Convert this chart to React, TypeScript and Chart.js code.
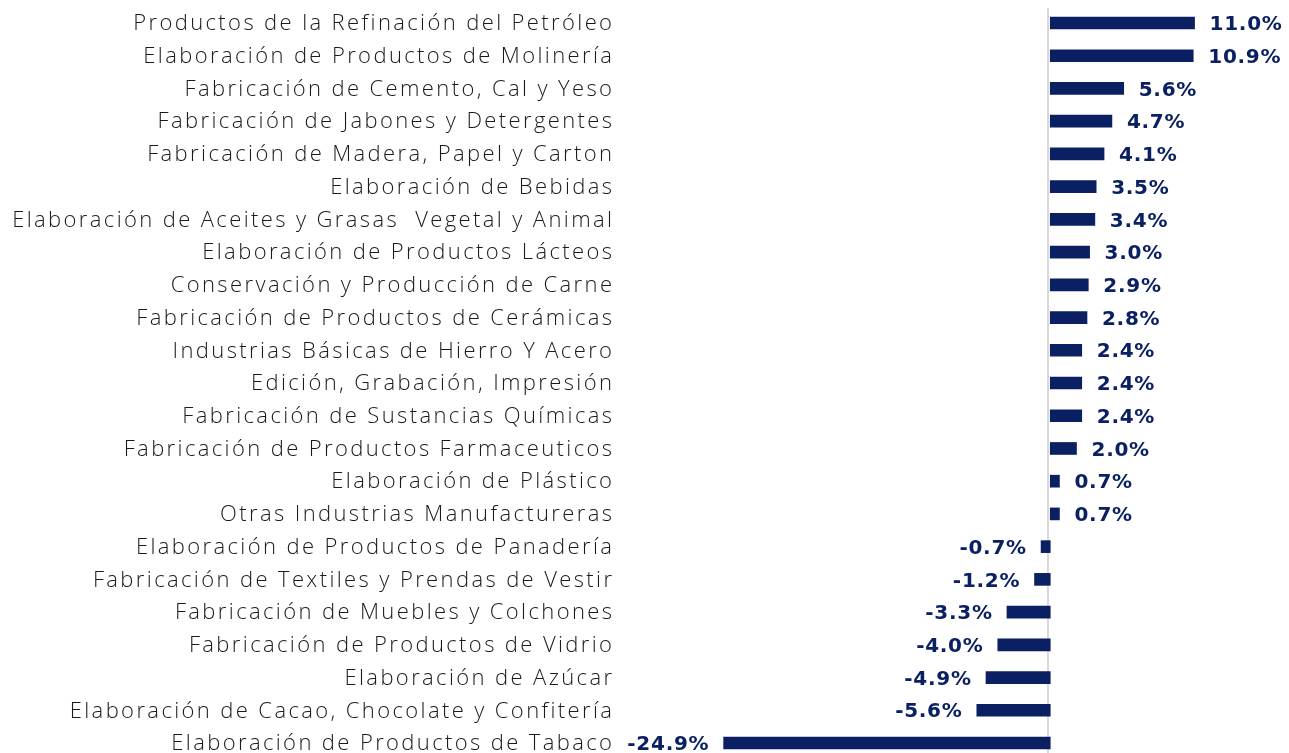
import React, { useEffect, useRef } from "react";
import { Chart, registerables } from "chart.js";

Chart.register(...registerables);

const categories: string[] = [
  "Productos de la Refinación del Petróleo",
  "Elaboración de Productos de Molinería",
  "Fabricación de Cemento, Cal y Yeso",
  "Fabricación de Jabones y Detergentes",
  "Fabricación de Madera, Papel y Carton",
  "Elaboración de Bebidas",
  "Elaboración de Aceites y Grasas  Vegetal y Animal",
  "Elaboración de Productos Lácteos",
  "Conservación y Producción de Carne",
  "Fabricación de Productos de Cerámicas",
  "Industrias Básicas de Hierro Y Acero",
  "Edición, Grabación, Impresión",
  "Fabricación de Sustancias Químicas",
  "Fabricación de Productos Farmaceuticos",
  "Elaboración de Plástico",
  "Otras Industrias Manufactureras",
  "Elaboración de Productos de Panadería",
  "Fabricación de Textiles y Prendas de Vestir",
  "Fabricación de Muebles y Colchones",
  "Fabricación de Productos de Vidrio",
  "Elaboración de Azúcar",
  "Elaboración de Cacao, Chocolate y Confitería",
  "Elaboración de Productos de Tabaco",
];

const values: number[] = [
  11.0, 10.9, 5.6, 4.7, 4.1, 3.5, 3.4, 3.0, 2.9, 2.8, 2.4, 2.4, 2.4, 2.0, 0.7,
  0.7, -0.7, -1.2, -3.3, -4.0, -4.9, -5.6, -24.9,
];

const NAVY = "#0a2062";
const CAT_FONT = "300 22px 'Open Sans'";
const VAL_FONT = "700 20px 'DejaVu Sans'";

const zeroLinePlugin = {
  id: "zeroLine",
  beforeDatasetsDraw(chart: any) {
    const x = chart.scales.x.getPixelForValue(0);
    const ctx = chart.ctx;
    ctx.save();
    ctx.strokeStyle = "#d9d9d9";
    ctx.lineWidth = 2;
    ctx.beginPath();
    ctx.moveTo(Math.round(x) - 2, 8);
    ctx.lineTo(Math.round(x) - 2, chart.height);
    ctx.stroke();
    ctx.restore();
  },
};

function spacingFor(ctx: any, font: string, text: string, target: number) {
  ctx.font = font;
  ctx.letterSpacing = "0px";
  const w = ctx.measureText(text).width;
  return Math.max(0, (target - w) / text.length);
}

const categoryLabelPlugin = {
  id: "categoryLabels",
  afterDraw(chart: any) {
    const ctx = chart.ctx;
    const y = chart.scales.y;
    ctx.save();
    const sp = spacingFor(ctx, CAT_FONT, categories[6], 602);
    ctx.font = CAT_FONT;
    ctx.letterSpacing = sp.toFixed(2) + "px";
    ctx.fillStyle = "#1a1a1a";
    ctx.textAlign = "right";
    ctx.textBaseline = "middle";
    categories.forEach((c, i) => {
      ctx.fillText(c, 612 + sp, y.getPixelForValue(i) + 1);
    });
    ctx.restore();
  },
};

const dataLabelPlugin = {
  id: "dataLabels",
  afterDatasetsDraw(chart: any) {
    const ctx = chart.ctx;
    const meta = chart.getDatasetMeta(0);
    ctx.save();
    const sp = spacingFor(ctx, VAL_FONT, "-24.9%", 82);
    ctx.font = VAL_FONT;
    ctx.letterSpacing = sp.toFixed(2) + "px";
    ctx.fillStyle = NAVY;
    ctx.textBaseline = "middle";
    meta.data.forEach((bar: any, i: number) => {
      const v = values[i];
      const txt = v.toFixed(1) + "%";
      if (v >= 0) {
        ctx.textAlign = "left";
        ctx.fillText(txt, bar.x + 15, bar.y + 2);
      } else {
        ctx.textAlign = "right";
        ctx.fillText(txt, bar.x - 15 + sp, bar.y + 2);
      }
    });
    ctx.restore();
  },
};

export default function App() {
  const ref = useRef<HTMLCanvasElement | null>(null);
  useEffect(() => {
    if (!ref.current) return;
    const chart = new Chart(ref.current, {
      type: "bar",
      data: {
        labels: categories,
        datasets: [
          {
            data: values,
            backgroundColor: NAVY,
            barThickness: 12,
            clip: false as any,
          },
        ],
      },
      options: {
        indexAxis: "y",
        animation: false,
        responsive: true,
        maintainAspectRatio: false,
        layout: { padding: { top: 23, bottom: 10, left: 620, right: 0 } },
        plugins: { legend: { display: false }, tooltip: { enabled: false } },
        scales: {
          x: {
            display: false,
            min: -32.8,
            max: 18.2,
          },
          y: {
            display: false,
            offset: false,
          },
        },
      },
      plugins: [zeroLinePlugin, dataLabelPlugin, categoryLabelPlugin],
    });
    return () => chart.destroy();
  }, []);
  return (
    <div style={{ position: "fixed", left: 0, top: 0, width: 1289, height: 753, background: "#fff" }}>
      <canvas ref={ref} />
    </div>
  );
}
